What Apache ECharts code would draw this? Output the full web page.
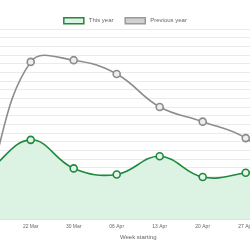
<!DOCTYPE html>
<html>
<head>
<meta charset="utf-8">
<script src="https://cdn.jsdelivr.net/npm/echarts@6/dist/echarts.min.js"></script>
<style>
  html, body { margin: 0; padding: 0; background: #fff; }
  #chart { width: 250px; height: 250px; }
</style>
</head>
<body>
<div id="chart"></div>
<script>
// week labels (first and last sit outside the visible area)
const weeks = ["15 Mar", "22 Mar", "30 Mar", "06 Apr", "13 Apr", "20 Apr", "27 Apr", "04 May"];
const thisYear = [5.5, 9.2, 5.9, 5.2, 7.3, 4.9, 5.4, 6.5];
const previousYear = [4.0, 18.2, 18.4, 16.8, 13.0, 11.3, 9.4, 5.0];

const GREEN = "#1f8a3d";
const GREY = "#8c8c8c";
const TENSION = 0.4;

const chart = echarts.init(document.getElementById("chart"));

// spline control points (same idea as chart.js tension curves, no clamping)
function controlPoints(pts, t) {
  return pts.map((p, i) => {
    const prev = pts[i - 1] || p;
    const next = pts[i + 1] || p;
    const d01 = Math.hypot(p[0] - prev[0], p[1] - prev[1]);
    const d12 = Math.hypot(next[0] - p[0], next[1] - p[1]);
    const s01 = d01 + d12 ? d01 / (d01 + d12) : 0;
    const s12 = d01 + d12 ? d12 / (d01 + d12) : 0;
    const dx = next[0] - prev[0];
    const dy = next[1] - prev[1];
    return {
      prev: [p[0] - t * s01 * dx, p[1] - t * s01 * dy],
      next: [p[0] + t * s12 * dx, p[1] + t * s12 * dy],
    };
  });
}

function curvePath(pts) {
  const cps = controlPoints(pts, TENSION);
  let d = "M" + pts[0][0] + " " + pts[0][1];
  for (let i = 0; i < pts.length - 1; i++) {
    const a = cps[i].next;
    const b = cps[i + 1].prev;
    const p = pts[i + 1];
    d += " C" + a[0] + " " + a[1] + " " + b[0] + " " + b[1] + " " + p[0] + " " + p[1];
  }
  return d;
}

function curveSeries(values, color, fill, z) {
  return {
    type: "custom",
    silent: true,
    z: z,
    data: [[0, 0]],
    renderItem: (params, api) => {
      const pts = values.map((v, i) => api.coord([i, v]));
      const base = api.coord([0, 0])[1];
      const line = curvePath(pts);
      const children = [];
      if (fill) {
        const last = pts[pts.length - 1];
        children.push({
          type: "path",
          shape: {
            pathData:
              "M" + pts[0][0] + " " + base + " L" + line.slice(1) +
              " L" + last[0] + " " + base + " Z",
          },
          style: { fill: fill, stroke: null },
        });
      }
      children.push({
        type: "path",
        shape: { pathData: line },
        style: { fill: null, stroke: color, lineWidth: 1.6 },
      });
      return { type: "group", children: children };
    },
  };
}

const option = {
  animation: false,
  legend: {
    top: 12,
    left: "center",
    itemWidth: 20,
    itemHeight: 6,
    itemGap: 11,
    textStyle: { fontSize: 6, color: "#666", fontFamily: "Liberation Sans" },
    data: [
      {
        name: "This year",
        icon: "rect",
        itemStyle: { color: "#dcf3e3", borderColor: GREEN, borderWidth: 1.5 },
      },
      {
        name: "Previous year",
        icon: "rect",
        itemStyle: { color: "#d0d0d0", borderColor: "#999", borderWidth: 1.5 },
      },
    ],
  },
  grid: {
    left: -12.3,
    right: -38.7,
    top: 29,
    bottom: 30.5,
    outerBoundsMode: "none",
  },
  xAxis: {
    type: "category",
    data: weeks,
    boundaryGap: false,
    name: "Week starting",
    nameLocation: "middle",
    nameGap: 14,
    nameTextStyle: { fontSize: 6, color: "#666", fontFamily: "Liberation Sans" },
    axisLine: { lineStyle: { color: "#d6d6d6", width: 1 } },
    axisTick: { show: false },
    axisLabel: { fontSize: 5, color: "#666", margin: 5, fontFamily: "Liberation Sans" },
    splitLine: { show: false },
  },
  yAxis: {
    type: "value",
    min: 0,
    max: 22,
    interval: 1,
    axisLabel: { show: false },
    axisLine: { show: false },
    axisTick: { show: false },
    splitLine: { lineStyle: { color: "#ebebeb", width: 1 } },
  },
  series: [
    curveSeries(thisYear, GREEN, "#dcf3e3", 1),
    curveSeries(previousYear, GREY, null, 2),
    {
      name: "This year",
      type: "line",
      data: thisYear,
      symbol: "circle",
      symbolSize: 7,
      z: 4,
      lineStyle: { width: 0, opacity: 0 },
      itemStyle: { color: "#e4f6ea", borderColor: GREEN, borderWidth: 1.6 },
    },
    {
      name: "Previous year",
      type: "line",
      data: previousYear,
      symbol: "circle",
      symbolSize: 7,
      z: 3,
      lineStyle: { width: 0, opacity: 0 },
      itemStyle: { color: "#eeeeee", borderColor: GREY, borderWidth: 1.6 },
    },
  ],
};

chart.setOption(option);
</script>
</body>
</html>
